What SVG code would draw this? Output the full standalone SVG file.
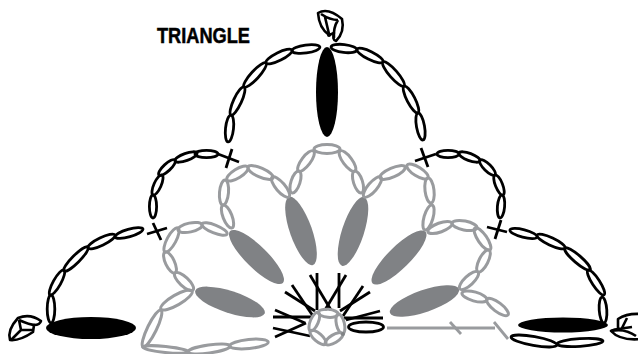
<svg xmlns="http://www.w3.org/2000/svg" width="638" height="354" viewBox="0 0 638 354">
<style>
.b ellipse{fill:none;stroke:#000;stroke-width:2.8}
.g ellipse{fill:none;stroke:#999b9e;stroke-width:3}
.b line{stroke:#000;stroke-width:2.8;fill:none}
.g line{stroke:#999b9e;stroke-width:2.8;fill:none}
.k path{fill:none;stroke:#000;stroke-width:2.6;stroke-linejoin:round}
.pg{fill:#808285}
.pb{fill:#000}
text{font-family:"Liberation Sans",Arial,sans-serif;font-weight:700;font-size:22.5px;fill:#000;stroke:#000;stroke-width:.5}
</style>
<rect width="638" height="354" fill="#fff"/>
<text x="157" y="42.5" textLength="93" lengthAdjust="spacingAndGlyphs">TRIANGLE</text>
<g id="petals">
<ellipse class="pg" rx="36.5" ry="11" transform="translate(230 302) rotate(18)"/>
<ellipse class="pg" rx="37" ry="11" transform="translate(256.5 257) rotate(44.5)"/>
<ellipse class="pg" rx="36" ry="11" transform="translate(301 231) rotate(70.6)"/>
<ellipse class="pg" rx="36" ry="11" transform="translate(353 231.5) rotate(-72)"/>
<ellipse class="pg" rx="37" ry="11" transform="translate(399 257.5) rotate(-44.5)"/>
<ellipse class="pg" rx="36.5" ry="11" transform="translate(424.5 301) rotate(-19)"/>
<ellipse class="pb" rx="11" ry="45" cx="327" cy="92"/>
<ellipse class="pb" rx="45" ry="11" cx="91" cy="328"/>
<ellipse class="pb" rx="45" ry="7.5" cx="563" cy="325"/>
</g>
<g id="gray-chains" class="g">
<ellipse rx="12.4" ry="4.5" transform="translate(184 281.5) rotate(43)"/>
<ellipse rx="11.6" ry="4.5" transform="translate(170 262.5) rotate(64.5)"/>
<ellipse rx="13.6" ry="4.5" transform="translate(171.5 240) rotate(-61.6)"/>
<ellipse rx="12.3" ry="4.5" transform="translate(190 227.5) rotate(-11.8)"/>
<ellipse rx="13.5" ry="4" transform="translate(214.5 229) rotate(21.8)"/>
<ellipse rx="12.3" ry="4.5" transform="translate(227.5 216.5) rotate(68.6)"/>
<ellipse rx="12.5" ry="4.5" transform="translate(224 192.5) rotate(-85)"/>
<ellipse rx="12.3" ry="4.5" transform="translate(237.5 173.5) rotate(-31.8)"/>
<ellipse rx="13.7" ry="4.5" transform="translate(260.5 172.5) rotate(23.7)"/>
<ellipse rx="13" ry="4.5" transform="translate(280.5 187) rotate(49.6)"/>
<ellipse rx="11.5" ry="4.5" transform="translate(295.5 182) rotate(-72)"/>
<ellipse rx="12.5" ry="4.5" transform="translate(306 161) rotate(-53)"/>
<ellipse rx="13" ry="4.5" transform="translate(327 149)"/>
<ellipse rx="12.5" ry="4.5" transform="translate(347.5 161) rotate(53)"/>
<ellipse rx="11.5" ry="4.5" transform="translate(358 182) rotate(72)"/>
<ellipse rx="13" ry="4.5" transform="translate(372.5 187) rotate(-49.6)"/>
<ellipse rx="13.7" ry="4.5" transform="translate(392.5 172.5) rotate(-23.7)"/>
<ellipse rx="12.3" ry="4.5" transform="translate(417.5 171.5) rotate(32)"/>
<ellipse rx="12.6" ry="4.5" transform="translate(429.5 190.5) rotate(83)"/>
<ellipse rx="13" ry="4.5" transform="translate(428.5 217.5) rotate(-74)"/>
<ellipse rx="12.8" ry="4.5" transform="translate(440 227.5) rotate(-20)"/>
<ellipse rx="12.7" ry="4.5" transform="translate(464.5 225.5) rotate(11)"/>
<ellipse rx="13.3" ry="4.5" transform="translate(482.5 239) rotate(55.7)"/>
<ellipse rx="12.3" ry="4.5" transform="translate(483.5 261) rotate(-63.4)"/>
<ellipse rx="12.4" ry="4.5" transform="translate(469 280.5) rotate(-43)"/>
<ellipse rx="13" ry="4.5" transform="translate(474.5 296.5) rotate(15.6)"/>
<ellipse rx="13.2" ry="4.5" transform="translate(497.5 307) rotate(37)"/>
<ellipse rx="18" ry="5" transform="translate(176.5 300) rotate(-30)"/>
<ellipse rx="20.6" ry="4.5" transform="translate(152 328.5) rotate(-64)"/>
<ellipse rx="23" ry="3" transform="translate(165.5 349.5) rotate(6)"/>
<ellipse rx="21.3" ry="4" transform="translate(209 349) rotate(-8)"/>
<ellipse rx="19.3" ry="4.5" transform="translate(249 344) rotate(-6)"/>
<line x1="387" y1="328" x2="495" y2="328"/>
<line x1="494" y1="322" x2="508" y2="339"/>
<line x1="450" y1="322" x2="461" y2="334"/>
</g>
<g id="black-chains" class="b">
<ellipse rx="14" ry="4" transform="translate(306 49) rotate(-8)"/>
<ellipse rx="14.5" ry="4" transform="translate(279 56.5) rotate(-26.6)"/>
<ellipse rx="16.3" ry="4" transform="translate(255 75) rotate(-47.5)"/>
<ellipse rx="15.4" ry="4" transform="translate(237.5 101) rotate(-65)"/>
<ellipse rx="13.5" ry="4" transform="translate(229.5 128.5) rotate(-84)"/>
<ellipse rx="13" ry="4" transform="translate(344 48.5) rotate(6.6)"/>
<ellipse rx="14.5" ry="4" transform="translate(370 55.5) rotate(26.6)"/>
<ellipse rx="16" ry="4" transform="translate(393.5 74) rotate(48.8)"/>
<ellipse rx="15" ry="4" transform="translate(411 99.5) rotate(62.6)"/>
<ellipse rx="13.7" ry="4" transform="translate(420.5 126.5) rotate(79.5)"/>
<ellipse rx="11.5" ry="3.6" transform="translate(206.5 154)"/>
<ellipse rx="11.7" ry="3.6" transform="translate(186 157) rotate(-20)"/>
<ellipse rx="11" ry="3.6" transform="translate(167 167.5) rotate(-43)"/>
<ellipse rx="11" ry="3.6" transform="translate(157.5 185) rotate(-66)"/>
<ellipse rx="11.5" ry="3.6" transform="translate(153 206.5) rotate(90)"/>
<ellipse rx="14.5" ry="3.8" transform="translate(129 233) rotate(-16)"/>
<ellipse rx="15" ry="3.8" transform="translate(101.5 241.5) rotate(-25.7)"/>
<ellipse rx="17" ry="3.8" transform="translate(76 259) rotate(-45)"/>
<ellipse rx="14.3" ry="3.8" transform="translate(57 282.5) rotate(-60.8)"/>
<ellipse rx="14" ry="3.8" transform="translate(51 309) rotate(90)"/>
<ellipse rx="11" ry="3.6" transform="translate(448 154)"/>
<ellipse rx="11.2" ry="3.6" transform="translate(469.5 157) rotate(21)"/>
<ellipse rx="10.6" ry="3.6" transform="translate(487.5 167.5) rotate(45)"/>
<ellipse rx="10.8" ry="3.6" transform="translate(499 185) rotate(68)"/>
<ellipse rx="11.5" ry="3.6" transform="translate(501 206.5) rotate(95)"/>
<ellipse rx="14" ry="3.8" transform="translate(523.5 233.5) rotate(14.5)"/>
<ellipse rx="15.4" ry="3.8" transform="translate(551 241.5) rotate(25)"/>
<ellipse rx="16.7" ry="3.8" transform="translate(577.5 259) rotate(41)"/>
<ellipse rx="14.8" ry="3.8" transform="translate(596 282.5) rotate(57)"/>
<ellipse rx="13" ry="3.8" transform="translate(603 310) rotate(86)"/>
<ellipse rx="23.3" ry="4.5" transform="translate(534 341) rotate(10)"/>
<ellipse rx="23" ry="3.8" transform="translate(580 342.5) rotate(-3.7)"/>
<ellipse rx="17.5" ry="5" cx="366" cy="327"/>
<line x1="218" y1="154" x2="239" y2="162"/><line x1="232" y1="149" x2="226" y2="168"/>
<line x1="147" y1="234" x2="167" y2="228"/><line x1="153" y1="223" x2="161" y2="240"/>
<line x1="415" y1="161" x2="436" y2="154"/><line x1="421" y1="148" x2="428" y2="167"/>
<line x1="487" y1="227" x2="507" y2="232"/><line x1="501" y1="220" x2="495" y2="239"/>
</g>
<g id="spokes" class="b">
<line x1="273" y1="317" x2="311" y2="317"/><line x1="275" y1="310" x2="305" y2="323"/>
<line x1="273" y1="328" x2="310" y2="336"/><line x1="275" y1="337" x2="306" y2="323"/>
<line x1="285" y1="292" x2="315" y2="311"/><line x1="292" y1="285" x2="313" y2="316"/>
<line x1="310" y1="275" x2="331" y2="310"/><line x1="317" y1="273" x2="317" y2="310"/>
<line x1="339" y1="273" x2="339" y2="308"/><line x1="346" y1="275" x2="325" y2="310"/>
<line x1="363" y1="286" x2="343" y2="316"/><line x1="370" y1="292" x2="340" y2="311"/>
<line x1="380" y1="311" x2="346" y2="320"/><line x1="383" y1="318" x2="344" y2="318"/>
</g>
<g id="ring" class="g">
<circle cx="327" cy="327" r="15" fill="#fff"/>
<ellipse rx="10" ry="4" transform="translate(334 338.8) rotate(-31)"/>
<ellipse rx="10" ry="4" transform="translate(318 337.4) rotate(41)"/>
<ellipse rx="10" ry="4" transform="translate(314.3 321.6) rotate(-67)"/>
<ellipse rx="10" ry="4" transform="translate(328.2 313.3) rotate(5)"/>
<ellipse rx="10" ry="4" transform="translate(340.4 323.9) rotate(77)"/>
<circle cx="343" cy="334" r="2" fill="#808285"/>
</g>
<g id="knot-top" class="k">
<path d="M318 13Q328 7 342 19Q345 32 336 41Q332 40 334 33L329 35Q319 28 318 13Z"/>
<path d="M321 14Q330 20 338 20M325 17L329 34M338 20Q333 28 334 38"/>
<circle cx="329" cy="35" r="2" fill="#000"/>
</g>
<g id="knot-left" class="k">
<path d="M18 318Q30 313 41 321Q40 325 34 325L33 332Q20 341 10 340Q7 330 18 318Z"/>
<path d="M19 320Q30 325 35 325M21 330L33 330M19 320L21 330L11 340"/>
</g>
<g id="knot-right" class="k">
<path d="M641 314Q627 313 618 319L618 329Q615 329 611 331Q620 341 641 339"/>
<path d="M611 331Q625 328 636 336M618 329L632 327M627 318L622 328"/>
</g>
</svg>
